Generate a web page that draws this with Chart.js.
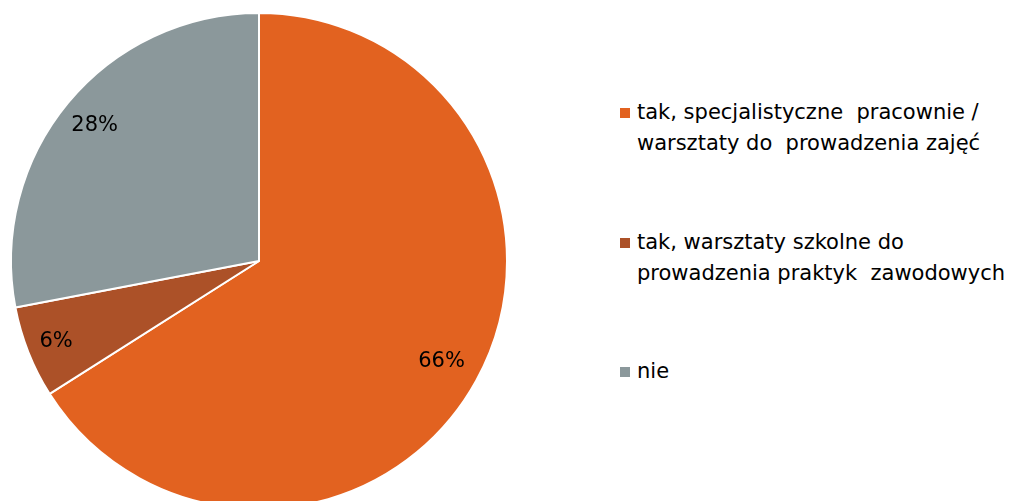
<!DOCTYPE html>
<html>
<head>
<meta charset="utf-8">
<script src="https://cdn.jsdelivr.net/npm/chart.js@4"></script>
<style>
  html, body { margin: 0; padding: 0; background: #fff; overflow: hidden; width: 1009px; height: 501px; }
  #wrap { position: absolute; left: 0; top: 0; width: 520px; height: 522px; }
  #legend { position: absolute; left: 620px; top: 0; font-family: 'DejaVu Sans', sans-serif; font-size: 21px; color: #000; }
  .item { position: absolute; left: 0; white-space: pre; line-height: 31px; }
  .box { position: absolute; left: 0; width: 10px; height: 10px; }
  .txt { position: absolute; left: 17px; }
</style>
</head>
<body>
<div id="wrap"><canvas id="pie"></canvas></div>
<div id="legend"></div>
<script>
const labels = [
  'tak, specjalistyczne  pracownie /\nwarsztaty do  prowadzenia zajęć',
  'tak, warsztaty szkolne do\nprowadzenia praktyk  zawodowych',
  'nie'
]
const values = [66, 6, 28]
const colors = ['#E26220', '#AC5128', '#8B989B']
const legendTops = [97, 227, 356]
const labelRadius = [0.84, 0.88, 0.86]

// legend po prawej stronie
let legend = document.getElementById('legend')
labels.forEach((text, i) => {
  let item = document.createElement('div')
  item.className = 'item'
  item.style.top = legendTops[i] + 'px'
  let box = document.createElement('div')
  box.className = 'box'
  box.style.background = colors[i]
  box.style.top = '11px'
  let txt = document.createElement('div')
  txt.className = 'txt'
  txt.textContent = text
  item.appendChild(box)
  item.appendChild(txt)
  legend.appendChild(item)
})

// etykiety procentowe na wycinkach
const sliceLabels = {
  id: 'sliceLabels',
  afterDatasetsDraw(chart) {
    const { ctx } = chart
    const meta = chart.getDatasetMeta(0)
    ctx.save()
    ctx.font = '21px "DejaVu Sans", sans-serif'
    ctx.fillStyle = '#000'
    ctx.textAlign = 'center'
    ctx.textBaseline = 'middle'
    meta.data.forEach((arc, i) => {
      const mid = (arc.startAngle + arc.endAngle) / 2
      const r = arc.outerRadius * labelRadius[i]
      ctx.fillText(values[i] + '%', arc.x + Math.cos(mid) * r, arc.y + Math.sin(mid) * r)
    })
    ctx.restore()
  },
}

new Chart(document.getElementById('pie').getContext('2d'), {
  type: 'pie',
  data: {
    labels: labels,
    datasets: [{
      data: values,
      backgroundColor: colors,
      borderColor: '#fff',
      borderWidth: 2,
    }],
  },
  options: {
    responsive: true,
    maintainAspectRatio: false,
    animation: false,
    layout: { padding: { left: 10, top: 12, right: 12, bottom: 12 } },
    plugins: {
      legend: { display: false },
      tooltip: { enabled: false },
    },
  },
  plugins: [sliceLabels],
})
</script>
</body>
</html>
